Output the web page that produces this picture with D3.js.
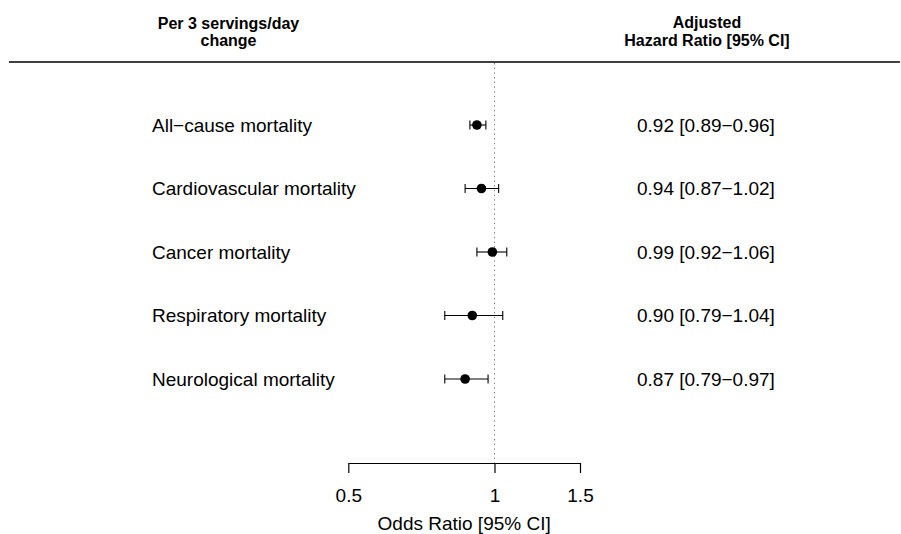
<!DOCTYPE html>
<html>
<head>
<meta charset="utf-8">
<script src="https://cdn.jsdelivr.net/npm/d3@7"></script>
<style>
  html, body { margin: 0; padding: 0; background: #fff; }
  svg { display: block; font-family: "Liberation Sans", Arial, sans-serif; }
</style>
</head>
<body>
<svg id="chart" width="901" height="534"></svg>
<script>
const categories = ["All\u2212cause mortality", "Cardiovascular mortality", "Cancer mortality", "Respiratory mortality", "Neurological mortality"];
const estimates = [0.92, 0.94, 0.99, 0.90, 0.87];
const lowerCI = [0.89, 0.87, 0.92, 0.79, 0.79];
const upperCI = [0.96, 1.02, 1.06, 1.04, 0.97];
const tickValues = [0.5, 1, 1.5];
const tickLabels = ["0.5", "1", "1.5"];
const leftHeader = ["Per 3 servings/day", "change"];
const rightHeader = ["Adjusted", "Hazard Ratio [95% CI]"];
const xTitle = "Odds Ratio [95% CI]";

const fmt = v => v.toFixed(2);
const svg = d3.select("#chart");

const x = d3.scaleLog().domain([0.5, 1.5]).range([348.3, 580]);
const y = d3.scalePoint().domain(categories).range([125, 379]);

// header
svg.append("line").attr("x1", 9).attr("x2", 900).attr("y1", 62).attr("y2", 62)
  .attr("stroke", "#000").attr("stroke-width", 1.5);
leftHeader.forEach((t, i) => {
  svg.append("text").attr("x", 228.5).attr("y", 28.5 + i * 17.5)
    .attr("text-anchor", "middle").attr("font-size", 16).attr("font-weight", "bold").text(t);
});
rightHeader.forEach((t, i) => {
  svg.append("text").attr("x", 707).attr("y", 28 + i * 18)
    .attr("text-anchor", "middle").attr("font-size", 16).attr("font-weight", "bold").text(t);
});

// reference line
svg.append("line").attr("x1", x(1)).attr("x2", x(1)).attr("y1", 63).attr("y2", 463)
  .attr("stroke", "#777").attr("stroke-width", 1).attr("stroke-dasharray", "1.3,3.4");

// axis
const axis = d3.axisBottom(x).tickValues(tickValues)
  .tickFormat((d, i) => tickLabels[i]).tickSize(10).tickSizeOuter(0);
const ag = svg.append("g").attr("transform", "translate(0,463)").call(axis);
ag.select(".domain").attr("stroke", "#000").attr("stroke-width", 1.2);
ag.selectAll(".tick line").attr("stroke", "#000").attr("stroke-width", 1.2);
ag.selectAll(".tick text").attr("font-size", 19).attr("font-family", "\"Liberation Sans\", Arial, sans-serif")
  .attr("fill", "#000").attr("dy", 0).attr("y", 38.5);
svg.append("text").attr("x", (x(0.5) + x(1.5)) / 2).attr("y", 529.5)
  .attr("text-anchor", "middle").attr("font-size", 19).text(xTitle);

// rows
const rows = categories.map((c, i) => ({ c, est: estimates[i], lo: lowerCI[i], hi: upperCI[i] }));
const g = svg.append("g");
const row = g.selectAll("g.row").data(rows).join("g").attr("class", "row");

row.append("text").attr("x", 152).attr("y", d => y(d.c) + 6.5)
  .attr("font-size", 19).text(d => d.c);
row.append("text").attr("x", 637).attr("y", d => y(d.c) + 6.5)
  .attr("font-size", 19).text(d => `${fmt(d.est)} [${fmt(d.lo)}\u2212${fmt(d.hi)}]`);

row.append("line").attr("x1", d => x(d.lo)).attr("x2", d => x(d.hi))
  .attr("y1", d => y(d.c)).attr("y2", d => y(d.c)).attr("stroke", "#000").attr("stroke-width", 1.1);
row.append("line").attr("x1", d => x(d.lo)).attr("x2", d => x(d.lo))
  .attr("y1", d => y(d.c) - 4.5).attr("y2", d => y(d.c) + 4.5).attr("stroke", "#000").attr("stroke-width", 1.1);
row.append("line").attr("x1", d => x(d.hi)).attr("x2", d => x(d.hi))
  .attr("y1", d => y(d.c) - 4.5).attr("y2", d => y(d.c) + 4.5).attr("stroke", "#000").attr("stroke-width", 1.1);
row.append("circle").attr("cx", d => x(d.est)).attr("cy", d => y(d.c)).attr("r", 4.8).attr("fill", "#000");
</script>
</body>
</html>
